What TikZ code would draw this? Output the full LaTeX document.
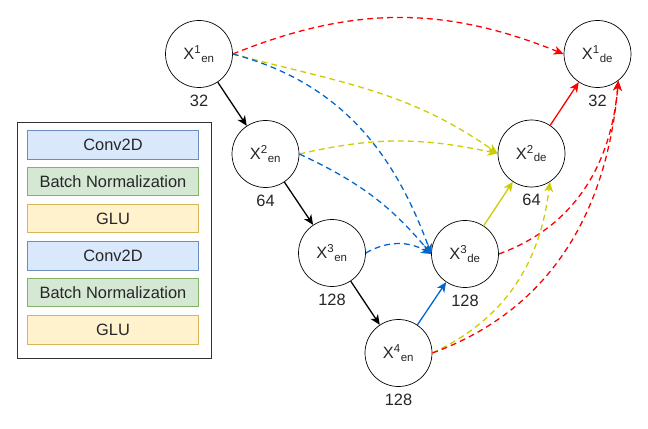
\documentclass[tikz,border=0pt]{standalone}
\usepackage{fontspec}
\setmainfont{Liberation Sans}
\usetikzlibrary{positioning,arrows.meta}

\definecolor{ccrouge}{RGB}{255,0,0}
\definecolor{ccjaune}{RGB}{204,204,0}
\definecolor{ccbleu}{RGB}{0,102,204}
\definecolor{ccbleuclair}{RGB}{218,232,252}
\definecolor{ccbleutrait}{RGB}{108,142,191}
\definecolor{ccvertclair}{RGB}{213,232,212}
\definecolor{ccverttrait}{RGB}{130,179,102}
\definecolor{ccsable}{RGB}{255,242,204}
\definecolor{ccsabletrait}{RGB}{214,182,86}

\tikzset{
  cercle/.style={circle, draw, line width=0.6pt, minimum size=2.01cm, inner sep=0pt},
  nombre/.style={inner sep=0pt},
  couche/.style={draw, line width=0.7pt, minimum width=5.15cm, minimum height=0.85cm, inner sep=0pt},
  fleche/.style={-{Stealth[length=8.5pt, width=7.5pt, inset=2.5pt]}, line width=1.1pt},
  saut/.style={fleche, dash pattern=on 5pt off 3.5pt},
}

\begin{document}
\begin{tikzpicture}[x=0.03cm, y=-0.03cm, font=\fontsize{14}{16}\selectfont, text=black!85]

  % Bounding box of the scheme
  \useasboundingbox (0,0) rectangle (648,429) ;

  %%%%%%%%%%%%%%%%%%%%%%%%%%%%%%%%% Legende des couches %%%%%%%%%%%%%%%%%%%%%%%%%%%%%%%%%%%%
  \draw[line width=0.7pt, color=black!80] (17,122) rectangle (211,358) ;

  \draw (113,145) node[couche, fill=ccbleuclair, draw=ccbleutrait] (c1) {Conv2D} ;
  \draw (113,181.5) node[couche, fill=ccvertclair, draw=ccverttrait] (c2) {Batch Normalization} ;
  \draw (113,218.5) node[couche, fill=ccsable, draw=ccsabletrait] (c3) {GLU} ;
  \draw (113,256) node[couche, fill=ccbleuclair, draw=ccbleutrait] (c4) {Conv2D} ;
  \draw (113,292.5) node[couche, fill=ccvertclair, draw=ccverttrait] (c5) {Batch Normalization} ;
  \draw (113,330) node[couche, fill=ccsable, draw=ccsabletrait] (c6) {GLU} ;

  %%%%%%%%%%%%%%%%%%%%%%%%%%%%%%%%% Encodeur et decodeur %%%%%%%%%%%%%%%%%%%%%%%%%%%%%%%%%%%%

  % Encodeur
  \draw (199,54) node[cercle] (en1) {X\textsuperscript{1}\textsubscript{en}} ;
  \draw (265.5,154) node[cercle] (en2) {X\textsuperscript{2}\textsubscript{en}} ;
  \draw (332,253) node[cercle] (en3) {X\textsuperscript{3}\textsubscript{en}} ;
  \draw (398.5,353) node[cercle] (en4) {X\textsuperscript{4}\textsubscript{en}} ;

  % Decodeur
  \draw (465,254) node[cercle] (de3) {X\textsuperscript{3}\textsubscript{de}} ;
  \draw (531.5,153.5) node[cercle] (de2) {X\textsuperscript{2}\textsubscript{de}} ;
  \draw (597.5,54) node[cercle] (de1) {X\textsuperscript{1}\textsubscript{de}} ;

  % Nombres de canaux
  \draw (en1.south) node[nombre, below = 0.2cm] (n1) {32} ;
  \draw (en2.south) node[nombre, below = 0.2cm] (n2) {64} ;
  \draw (en3.south) node[nombre, below = 0.2cm] (n3) {128} ;
  \draw (en4.south) node[nombre, below = 0.2cm] (n4) {128} ;
  \draw (de3.south) node[nombre, below = 0.2cm] (n5) {128} ;
  \draw (de2.south) node[nombre, below = 0.2cm] (n6) {64} ;
  \draw (de1.south) node[nombre, below = 0.2cm] (n7) {32} ;

  %%%%%%%%%%%%%%%%%%%%%%%%%%%%%%%%% Fleches %%%%%%%%%%%%%%%%%%%%%%%%%%%%%%%%%%%%

  \draw[fleche] (en1) -- (en2) ;
  \draw[fleche] (en2) -- (en3) ;
  \draw[fleche] (en3) -- (en4) ;
  \draw[fleche, ccbleu] (en4) -- (de3) ;
  \draw[fleche, ccjaune] (de3) -- (de2) ;
  \draw[fleche, ccrouge] (de2) -- (de1) ;

  % Connexions sautees
  \draw[saut, ccrouge] (en1.east) to[out=22, in=158] (de1.west) ;
  \draw[saut, ccjaune] (en1.east) to[out=-15, in=145] (de2.west) ;
  \draw[saut, ccbleu] (en1.east) to[out=-15, in=110] (de3.west) ;
  \draw[saut, ccjaune] (en2.east) to[out=13, in=168] (de2.west) ;
  \draw[saut, ccbleu] (en2.east) to[out=-25, in=130] (de3.west) ;
  \draw[saut, ccbleu] (en3.east) to[out=30, in=150] (de3.west) ;
  \draw[saut, ccrouge] (de3.east) to[out=20, in=-95] (de1.-52) ;
  \draw[saut, ccjaune] (en4.east) to[out=25, in=-97] (de2.-57) ;
  \draw[saut, ccrouge] (en4.east) to[out=20, in=-95] (de1.-52) ;

\end{tikzpicture}
\end{document}
